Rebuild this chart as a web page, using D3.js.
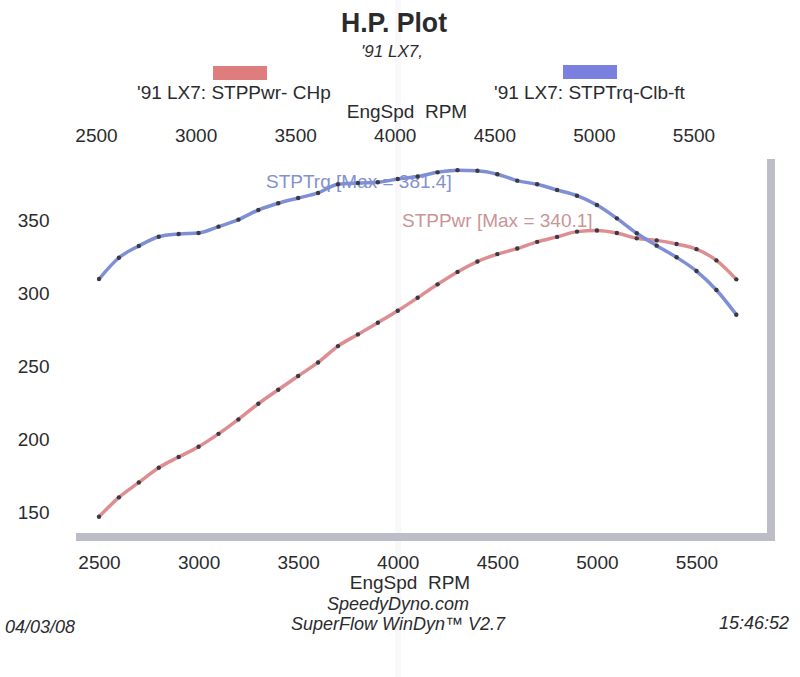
<!DOCTYPE html>
<html>
<head>
<meta charset="utf-8">
<script src="https://cdn.jsdelivr.net/npm/d3@7"></script>
<style>
  body { margin: 0; background: #fff; }
  text { font-family: "Liberation Sans", Arial, sans-serif; fill: #2b2b2e; white-space: pre; }
</style>
</head>
<body>
<div id="chart-area"></div>
<script>
/* data */
var rpm = [2500, 2600, 2700, 2800, 2900, 3000, 3100, 3200, 3300, 3400, 3500,
           3600, 3700, 3800, 3900, 4000, 4100, 4200, 4300, 4400, 4500, 4600,
           4700, 4800, 4900, 5000, 5100, 5200, 5300, 5400, 5500, 5600, 5700];
var power = [144.0, 157.3, 167.5, 177.6, 184.9, 192.0, 200.8, 210.7, 221.4, 231.0, 240.4,
             249.7, 260.9, 268.9, 276.9, 285.1, 294.0, 303.2, 311.7, 318.8, 323.9, 327.7,
             332.3, 335.7, 339.3, 340.1, 338.4, 334.7, 333.3, 330.8, 327.3, 319.6, 306.6];
var torque = [306.8, 321.4, 329.5, 335.8, 337.7, 338.4, 342.7, 347.5, 354.1, 358.7, 362.3,
              365.8, 371.7, 372.6, 373.1, 375.3, 377.1, 379.9, 381.4, 381.0, 378.6, 374.2,
              371.7, 367.8, 363.9, 357.5, 348.4, 338.2, 329.7, 321.7, 312.3, 299.3, 282.4];
var xTicks = [2500, 3000, 3500, 4000, 4500, 5000, 5500];
var yTicks = [150, 200, 250, 300, 350];

var width = 800, height = 677;

var svg = d3.select("#chart-area").append("svg")
  .attr("width", width)
  .attr("height", height);

svg.append("rect").attr("width", width).attr("height", height).attr("fill", "#fff");

// faint fold in the paper
svg.append("rect")
  .attr("x", 395).attr("y", 0).attr("width", 6).attr("height", height)
  .attr("fill", "#f8f8fa");

/* scales */
var x = d3.scaleLinear().domain([2500, 5500]).range([99, 696.5]);
var y = d3.scaleLinear().domain([150, 350]).range([508, 216]);

/* titles */
svg.append("text")
  .attr("x", 394).attr("y", 32)
  .attr("text-anchor", "middle")
  .attr("font-size", "28px").attr("font-weight", "bold")
  .attr("textLength", 106).attr("lengthAdjust", "spacingAndGlyphs")
  .text("H.P. Plot");
svg.append("text")
  .attr("x", 392).attr("y", 57)
  .attr("text-anchor", "middle")
  .attr("font-size", "17px").attr("font-style", "italic")
  .text("'91 LX7,");

/* legend */
svg.append("rect").attr("x", 213).attr("y", 66).attr("width", 54).attr("height", 14)
  .attr("fill", "#de7c7e");
svg.append("rect").attr("x", 563).attr("y", 65).attr("width", 54).attr("height", 14)
  .attr("fill", "#7a80e0");
svg.append("text").attr("x", 137).attr("y", 99).attr("font-size", "19px")
  .text("'91 LX7: STPPwr- CHp");
svg.append("text").attr("x", 494).attr("y", 99).attr("font-size", "19px")
  .text("'91 LX7: STPTrq-Clb-ft");

/* axes */
svg.append("text").attr("x", 407).attr("y", 118).attr("text-anchor", "middle")
  .attr("font-size", "19px").text("EngSpd  RPM");
svg.append("text").attr("x", 410).attr("y", 589).attr("text-anchor", "middle")
  .attr("font-size", "19px").text("EngSpd  RPM");

var fmt = d3.format("d");
var topAxis = svg.append("g")
  .attr("transform", "translate(-3, 135)")
  .call(d3.axisTop(x).tickValues(xTicks).tickFormat(fmt).tickSize(0).tickPadding(0));
var bottomAxis = svg.append("g")
  .attr("transform", "translate(0, 562)")
  .call(d3.axisBottom(x).tickValues(xTicks).tickFormat(fmt).tickSize(0).tickPadding(0));
var leftAxis = svg.append("g")
  .attr("transform", "translate(49.5, 4)")
  .call(d3.axisLeft(y).tickValues(yTicks).tickFormat(fmt).tickSize(0).tickPadding(0));

[topAxis, bottomAxis, leftAxis].forEach(function(a) {
  a.select(".domain").remove();
  a.selectAll("text")
    .attr("font-size", "19px")
    .attr("font-family", "Liberation Sans, Arial, sans-serif")
    .attr("fill", "#2b2b2e")
    .attr("y", 0).attr("dy", "0.35em");
});
leftAxis.selectAll("text").attr("x", 0);

/* plot frame (gray bars) */
svg.append("rect").attr("x", 76).attr("y", 533).attr("width", 699).attr("height", 8)
  .attr("fill", "#bcbdc6");
svg.append("rect").attr("x", 767).attr("y", 159).attr("width", 8).attr("height", 382)
  .attr("fill", "#bcbdc6");

/* max annotations */
svg.append("text").attr("x", 266).attr("y", 188).attr("font-size", "19px")
  .style("fill", "#8391cc")
  .text("STPTrq [Max = 381.4]");
svg.append("text").attr("x", 402).attr("y", 227).attr("font-size", "19px")
  .style("fill", "#c99597")
  .text("STPPwr [Max = 340.1]");

/* curves */
var line = d3.line().curve(d3.curveMonotoneX);

function drawSeries(values, color) {
  var pts = rpm.map(function(r, i) { return [x(r), y(values[i])]; });
  svg.append("path")
    .attr("d", line(pts))
    .attr("fill", "none")
    .attr("stroke", color)
    .attr("stroke-width", 3.5)
    .attr("stroke-linejoin", "round");
  svg.append("g").selectAll("circle")
    .data(pts)
    .enter()
    .append("circle")
      .attr("cx", function(d) { return d[0]; })
      .attr("cy", function(d) { return d[1]; })
      .attr("r", 2.2)
      .attr("fill", "#3a3a40");
}
drawSeries(power, "#de8e92");
drawSeries(torque, "#7f8fd6");

/* footer */
svg.append("text").attr("x", 398).attr("y", 610).attr("text-anchor", "middle")
  .attr("font-size", "18px").attr("font-style", "italic").text("SpeedyDyno.com");
svg.append("text").attr("x", 398).attr("y", 630).attr("text-anchor", "middle")
  .attr("font-size", "18px").attr("font-style", "italic").text("SuperFlow WinDyn\u2122 V2.7");
svg.append("text").attr("x", 5).attr("y", 633)
  .attr("font-size", "18px").attr("font-style", "italic").text("04/03/08");
svg.append("text").attr("x", 789).attr("y", 629).attr("text-anchor", "end")
  .attr("font-size", "18px").attr("font-style", "italic").text("15:46:52");
</script>
</body>
</html>
